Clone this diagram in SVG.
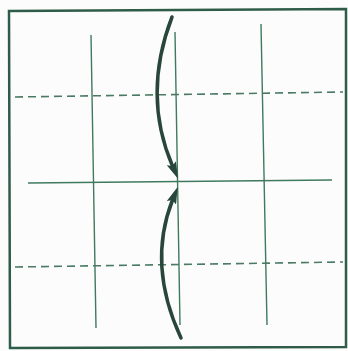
<svg xmlns="http://www.w3.org/2000/svg" width="348" height="351" viewBox="0 0 348 351">
<style>
.frame{fill:none;stroke:#2f5c48;stroke-width:2.5}
.crease{fill:none;stroke:#3f7a5e;stroke-width:1.4}
.dash{fill:none;stroke:#4a7a64;stroke-width:1.6;stroke-dasharray:8,5}
.arrow{fill:none;stroke:#28463a;stroke-width:3.5;stroke-linecap:round}
</style>
<defs>
<marker id="head" viewBox="0 0 17 10" refX="3" refY="5" markerWidth="4.86" markerHeight="2.86" orient="auto" markerUnits="strokeWidth">
<path d="M0,0 L17,5 L0,10 L3,5 Z" fill="#28463a"/>
</marker>
</defs>
<rect width="348" height="351" fill="#fdfcfd"/>
<g id="paper">
<path class="frame" d="M9,11 L346,9 L346,347 L10,348 Z"/>
</g>
<g id="creases">
<line class="crease" x1="91" y1="35" x2="96" y2="328"/>
<line class="crease" x1="175" y1="32" x2="180" y2="325"/>
<line class="crease" x1="261" y1="24" x2="267" y2="325"/>
<line class="crease" x1="28" y1="183" x2="332" y2="180"/>
<line class="dash" x1="15" y1="97" x2="343" y2="92"/>
<line class="dash" x1="15" y1="267" x2="343" y2="262"/>
</g>
<g id="connectors">
<path class="arrow" d="M172,17 Q142,95 172.5,166" marker-end="url(#head)"/>
<path class="arrow" d="M181,338 Q147,265 172.5,200" marker-end="url(#head)"/>
</g>
</svg>
